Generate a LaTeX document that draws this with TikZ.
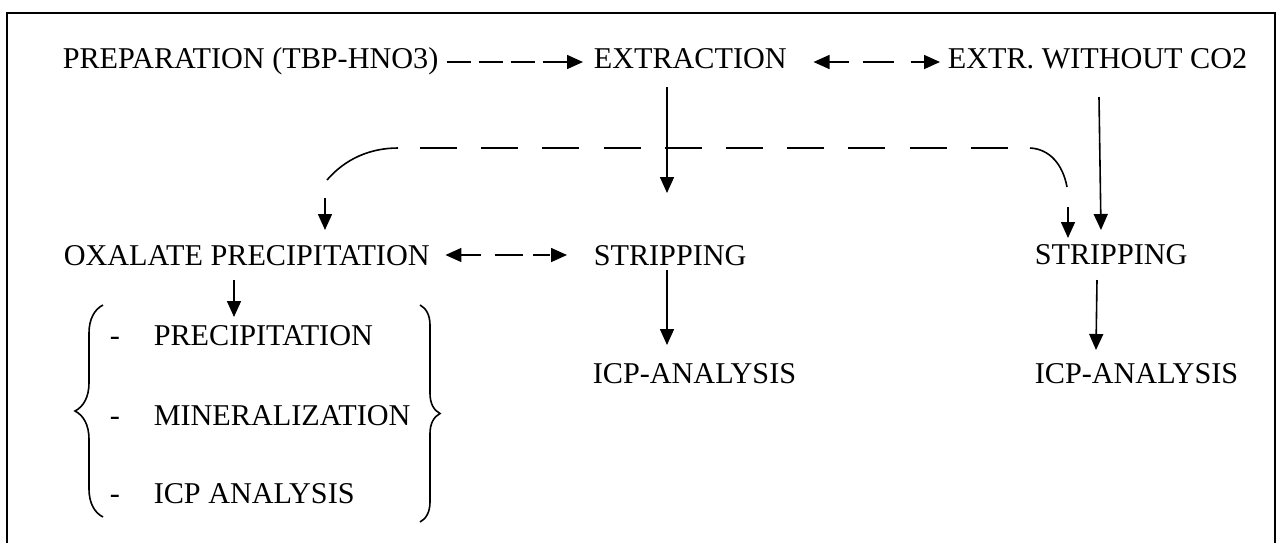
\documentclass[tikz,border=0pt]{standalone}
\usepackage{fontspec}
\setmainfont{Liberation Serif}
\usetikzlibrary{arrows.meta,positioning,calc,decorations.pathreplacing}

\begin{document}
\begin{tikzpicture}[x=0.5pt,y=-0.5pt,>={Triangle[length=8pt,width=7pt]},line width=0.8pt,
  lbl/.style={anchor=base west,inner sep=0pt,font=\fontsize{15.1pt}{18pt}\selectfont},
  dsh/.style={dash pattern=on 12pt off 4pt},
  brc/.style={decorate,decoration={brace,amplitude=#1}}]
\useasboundingbox (0,0) rectangle (1282,543);
\draw[line width=1pt] (7,543) -- (7,13) -- (1275,13) -- (1275,543);
% top row
\node[lbl] (prep) at (62,68) {PREPARATION (TBP-HNO3)};
\node[lbl] (ext) at (593,68) {EXTRACTION};
\node[lbl] (woc) at (947,68) {EXTR. WITHOUT CO2};
% second row
\node[lbl] (oxa) at (63,265) {OXALATE PRECIPITATION};
\node[lbl] (str1) at (593,265) {STRIPPING};
\node[lbl] (str2) at (1034,264) {STRIPPING};
\node[lbl] (icp1) at (592,383) {ICP-ANALYSIS};
\node[lbl] (icp2) at (1034,383) {ICP-ANALYSIS};
% oxalate steps
\node[lbl] (pre) at (109,345) {\makebox[22pt][l]{-}PRECIPITATION};
\node[lbl] (min) at (109,425) {\makebox[22pt][l]{-}MINERALIZATION};
\node[lbl] (ana) at (109,503) {\makebox[22pt][l]{-}ICP ANALYSIS};
\draw[brc=14pt] (103,517) -- (103,305);
\draw[brc=10pt] (420,305) -- (420,522);
% connectors
\draw[->,dsh] ($(prep.base east)+(8,-6)$) -- ($(ext.base west)+(-10,-6)$);
\draw[<->,dash pattern=on 10pt off 7pt on 15.5pt off 8.5pt on 10pt]
  ($(ext.base east)+(26,-6)$) -- ($(woc.base west)+(-7,-6)$);
\draw[<->,dash pattern=on 10pt off 7pt on 14pt off 5pt on 8.5pt]
  ($(oxa.base east)+(15,-10)$) -- ($(str1.base west)+(-26,-10)$);
\draw[->] ($(ext.base west)+(74,19)$) -- ($(str1.base west)+(74,-72)$);
\draw[->] ($(woc.base west)+(152,29)$) -- ($(str2.base west)+(67,-34)$);
\draw[->] ($(str1.base west)+(74,5)$) -- ($(icp1.base west)+(75,-38)$);
\draw[->] ($(str2.base west)+(63,16)$) -- ($(icp2.base west)+(62,-33)$);
\draw[->] ($(oxa.base west)+(171,15)$) -- ($(pre.base west)+(125,-28)$);
% loop from extraction over to both sides
\coordinate (lk) at (327,180);
\coordinate (lt) at (398,148);
\coordinate (rt) at (1030,148);
\coordinate (rk) at (1067,187);
\draw (lk) .. controls (345,159) and (370,148) .. (lt);
\draw[dash pattern=on 18.5pt off 12.1pt] ($(lt)+(22,0)$) -- ($(rt)+(-22,0)$);
\draw (rt) .. controls (1050,149) and (1063,165) .. (rk);
\draw[->] ($(lk)+(-2,18)$) -- ($(oxa.base west)+(262,-35)$);
\draw[->] ($(rk)+(1,20)$) -- ($(str2.base west)+(34,-26)$);
\end{tikzpicture}
\end{document}
